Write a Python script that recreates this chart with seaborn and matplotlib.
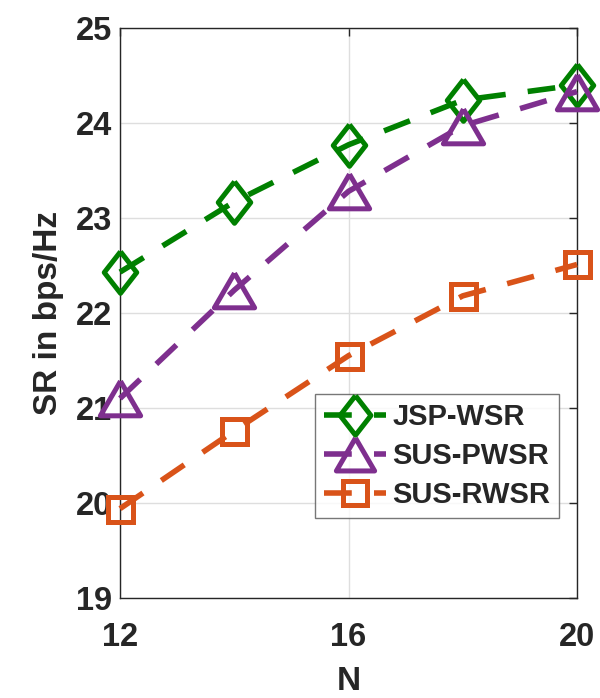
import matplotlib
matplotlib.use("Agg")
import matplotlib.pyplot as plt
import seaborn as sns

N = [12, 14, 16, 18, 20]
jsp_wsr = [22.43, 23.17, 23.77, 24.24, 24.40]
sus_pwsr = [21.10, 22.24, 23.28, 23.97, 24.33]
sus_rwsr = [19.94, 20.76, 21.55, 22.18, 22.51]

labels = ["JSP-WSR", "SUS-PWSR", "SUS-RWSR"]
colors = ["#008000", "#7E2F8E", "#D95319"]
# MATLAB-like markers: tall diamond, wide triangle
diamond = [(0, 1), (0.78, 0), (0, -1), (-0.78, 0), (0, 1)]
triangle = [(0, 0.86), (1, -0.86), (-1, -0.86), (0, 0.86)]
markers = [diamond, triangle, "s"]
msizes = [30, 29, 18]

sns.set_style("white")
plt.rcParams["font.family"] = ["Liberation Sans", "DejaVu Sans"]
plt.rcParams["font.weight"] = "bold"

fig = plt.figure(figsize=(6, 6.98), dpi=100)
ax = fig.add_axes([0.2, 0.1433, 0.7617, 0.8167])

for vals, lab, c, m, ms in zip([jsp_wsr, sus_pwsr, sus_rwsr], labels, colors, markers, msizes):
    sns.lineplot(x=N, y=vals, ax=ax, color=c, label=lab, linestyle="--", lw=4,
                 marker=m, markersize=ms, markerfacecolor="none",
                 markeredgecolor=c, markeredgewidth=3.6, clip_on=False, zorder=3)
    ax.lines[-1].set_dashes((5.0, 4.0))

ax.set_xlim(12, 20)
ax.set_ylim(19, 25)
ax.set_xticks([12, 16, 20])
ax.set_yticks(range(19, 26))
ax.grid(True, color="#dedede", lw=1)
ax.tick_params(direction="in", length=6, width=1, top=True, right=True,
               labelsize=23.5, color="#262626")
ax.tick_params(axis="x", pad=17)
ax.tick_params(axis="y", pad=6)
for s in ax.spines.values():
    s.set_color("#262626")
    s.set_linewidth(1)
for t in ax.get_xticklabels() + ax.get_yticklabels():
    t.set_fontweight("bold")
    t.set_color("#262626")

ax.set_xlabel("N", fontsize=24, fontweight="bold", color="#262626", labelpad=10)
ax.set_ylabel("SR in bps/Hz", fontsize=24, fontweight="bold", color="#262626", labelpad=8)

leg = ax.legend(handles=ax.lines, labels=labels, loc="lower right",
                bbox_to_anchor=(0.9606, 0.1404), fontsize=21, frameon=True,
                fancybox=False, edgecolor="#555555", handlelength=2.15,
                handletextpad=0.2, labelspacing=0.38, borderpad=0.3,
                borderaxespad=0, markerscale=0.95)
leg.get_frame().set_linewidth(1)
for t in leg.get_texts():
    t.set_fontweight("bold")

fig.savefig("out.png", dpi=100)
